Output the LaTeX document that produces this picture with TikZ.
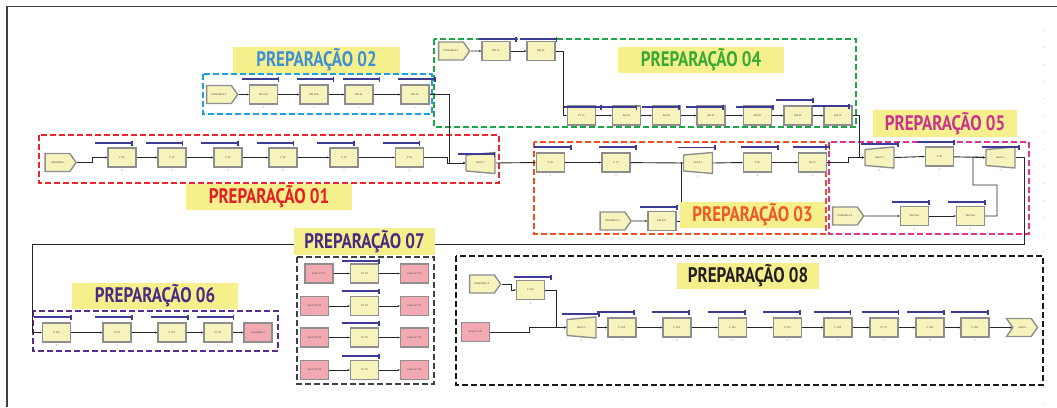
\documentclass[tikz,border=0pt]{standalone}
\usepackage{fontspec}
\setmainfont{Liberation Sans}
\newfontfamily\ttl{PT Sans}[FakeStretch=0.81]
\usetikzlibrary{shapes.geometric,shapes.symbols,arrows.meta}
\definecolor{nodefill}{HTML}{F7F3BC}
\definecolor{nodegray}{HTML}{8E8E8E}
\definecolor{pinkfill}{HTML}{F2A9B2}
\definecolor{resblue}{HTML}{3C3C96}
\definecolor{ttlyellow}{HTML}{F6F08C}
\definecolor{c01}{HTML}{E41E26}
\definecolor{c02}{HTML}{3F8FD6}
\definecolor{c03}{HTML}{EE5A24}
\definecolor{c04}{HTML}{39A935}
\definecolor{c05}{HTML}{C9338E}
\definecolor{c06}{HTML}{4B2A84}
\definecolor{c08}{HTML}{231F20}
\definecolor{g01}{HTML}{E8262B}
\definecolor{g02}{HTML}{1E9FE0}
\definecolor{g03}{HTML}{F04E23}
\definecolor{g04}{HTML}{1FA54A}
\definecolor{g05}{HTML}{E0338F}
\definecolor{g06}{HTML}{5B2C8B}
\definecolor{g07}{HTML}{404040}
\definecolor{g08}{HTML}{1A1A1A}
\tikzset{
  base/.style={draw=nodegray, line width=1.4pt, fill=nodefill, minimum width=28pt, minimum height=19pt, inner sep=0pt, font=\fontsize{2.5}{3}\selectfont, text=black!70},
  pnode/.style={base, rectangle},
  pinknode/.style={base, rectangle, fill=pinkfill},
  create/.style={base, signal, signal to=east, signal pointer angle=110, minimum width=31pt, minimum height=18pt},
  dispose/.style={base, signal, signal from=west, signal pointer angle=110, minimum width=31pt, minimum height=18pt},
  batch/.style={base, rectangle, draw=none, fill=none, minimum width=29pt, minimum height=20pt},
  bshape/.style={draw=nodegray, line width=1.4pt, fill=nodefill, line join=round},
  con/.style={line width=0.9pt, black!85, -{Stealth[length=2.2pt,width=2pt]}},
  res/.style={line width=1.2pt, resblue},
  grp/.style={line width=2pt, dash pattern=on 6pt off 3pt},
  ttlbox/.style={fill=ttlyellow, font=\ttl\bfseries\fontsize{21}{21}\selectfont, minimum height=26pt, inner sep=0pt},
  cnt/.style={font=\fontsize{2.5}{3}\selectfont, text=red!70, inner sep=0pt}
}
\newcommand\rsc[3]{\draw[res] ([shift={(#2-18.5,-#3)}]#1.center) -- ([shift={(#2+18.5,-#3)}]#1.center) ([shift={(#2+18.5,-#3-2.5)}]#1.center) -- ([shift={(#2+18.5,-#3+2.5)}]#1.center);}
\newcommand\cnt[1]{\node[cnt] (#1c) at ([shift={(0,13.5)}]#1.center) {0};}
% trapezoid outline of a Batch module, drawn under its (invisible) node
\newcommand\batchat[3]{%
  \filldraw[bshape] (#2-14.5,#3-8) -- (#2+14.5,#3-10.5) -- (#2+14.5,#3+10.5) -- (#2-14.5,#3+8) -- cycle;
  \node[batch] (#1) at (#2,#3) {\csname bl#1\endcsname};}
\begin{document}
\begin{tikzpicture}[x=1pt,y=-1pt]
\useasboundingbox (0,0) rectangle (1057,407);
% frame
\draw[line width=1.4pt, black!75] (7,407) -- (7,6.5) -- (1057,6.5);
\draw[black!20, line width=0.8pt, dash pattern=on 1pt off 16pt] (1043,30) -- (1043,407);
% group boxes
\draw[grp, draw=g01] (39,135) rectangle (499,183);
\draw[grp, draw=g02] (203,74) rectangle (432,114);
\draw[grp, draw=g04] (434,39) rectangle (856,127);
\draw[grp, draw=g03] (534,142) rectangle (826,234);
\draw[grp, draw=g05] (829,142) rectangle (1029,234);
\draw[grp, draw=g06] (33,311) rectangle (278,351);
\draw[grp, draw=g07] (297,257) rectangle (434,384);
\draw[grp, draw=g08] (456,256) rectangle (1043,385);

% ---------- PREP 01
\node[create] (d1) at (57.5,162.5) {DEMANDA};
\node[pnode] (p00) at (122,157.5) {P 00};
\node[pnode] (p10) at (172,157.5) {P 10};
\node[pnode] (p20) at (228,157.5) {P 20};
\node[pnode] (p30) at (283,157.5) {P 30};
\node[pnode] (p40) at (344,157.5) {P 40};
\node[pnode] (p50) at (409.5,157.5) {P 50};
\filldraw[bshape] (466,155) -- (495,152.5) -- (495,173.5) -- (466,171) -- cycle;
\node[batch] (b1) at (480.5,163) {Batch 1};
% ---------- PREP 02
\node[create] (d2) at (219,94.5) {DEMANDA 2};
\node[pnode] (bm01a) at (263.5,94.5) {BM 01A};
\node[pnode] (bm01b) at (314,94.5) {BM 01B};
\node[pnode] (bm02) at (359,94.5) {BM 02};
\node[pnode] (bm03) at (415,94.5) {BM 03};
% ---------- PREP 04
\node[create] (d4) at (451,51) {DEMANDA 4};
\node[pnode] (bm13) at (496,51) {BM 13};
\node[pnode] (bm14) at (541,51) {BM 14};
\node[pnode] (pt21) at (581.5,115.5) {PT 21};
\node[pnode] (bm29) at (626.5,115.5) {BM 29};
\node[pnode] (bm28) at (666.5,115.5) {BM 28};
\node[pnode] (bm27) at (711,115.5) {BM 27};
\node[pnode] (bm26) at (757.5,115.5) {BM 26};
\node[pnode] (bm25) at (798,115.5) {BM 25};
\node[pnode] (bm15) at (838,115.5) {BM 15};
% ---------- PREP 03
\node[pnode] (p60) at (550.5,162.5) {P 60};
\node[pnode] (p70) at (616,162.5) {P 70};
\filldraw[bshape] (683.5,155) -- (712.5,152.5) -- (712.5,173.5) -- (683.5,171) -- cycle;
\node[batch] (b2) at (698,163) {Batch 2};
\node[pnode] (p80) at (757.5,162.5) {P 80};
\node[pnode] (pr27) at (812.5,162.5) {PR 27};
\node[create] (d3) at (612.5,221) {DEMANDA 3};
\node[pnode] (bm01c) at (662,221) {BM 01C};
% ---------- PREP 05
\filldraw[bshape] (865,149.5) -- (894,147) -- (894,168) -- (865,165.5) -- cycle;
\node[batch] (b3) at (879.5,157.5) {Batch 3};
\node[pnode] (p90) at (939.5,156.5) {P 90};
\filldraw[bshape] (986,149.5) -- (1015,147) -- (1015,168) -- (986,165.5) -- cycle;
\node[batch] (b4) at (1000.5,157.5) {Batch 4};
\node[create] (d5) at (845,216) {DEMANDA 5};
\node[pnode] (bm01d) at (914.5,216) {BM 01D};
\node[pnode] (bm01e) at (970.5,216) {BM 01E};
% ---------- PREP 06
\node[pnode] (p100) at (56.5,332.5) {P 100};
\node[pnode] (p110) at (117,332.5) {P 110};
\node[pnode] (p120) at (172,332.5) {P 120};
\node[pnode] (pt30) at (218,332.5) {PT 30};
\node[pinknode] (fin5) at (258,332.5) {Finalidade 5};
% ---------- PREP 07
\node[pinknode] (e03) at (319,273.5) {Enter PT 03};
\node[pnode] (pt03) at (364.5,273.5) {PT 03};
\node[pinknode] (l03) at (414.5,273.5) {Leave PT 03};
\node[pinknode] (e04) at (314.5,306) {Enter PT 04};
\node[pnode] (pt04) at (364.5,306) {PT 04};
\node[pinknode] (l04) at (414.5,306) {Leave PT 04};
\node[pinknode] (e05) at (314.5,337.5) {Enter PT 05};
\node[pnode] (pt05) at (364.5,337.5) {PT 05};
\node[pinknode] (l05) at (414.5,337.5) {Leave PT 05};
\node[pinknode] (e06) at (314.5,370) {Enter PT 06};
\node[pnode] (pt06) at (364.5,370) {PT 06};
\node[pinknode] (l06) at (414.5,370) {Leave PT 06};
% ---------- PREP 08
\node[create] (d6) at (482,284) {DEMANDA 6};
\node[pnode] (p130) at (530.5,290) {P 130};
\node[pinknode] (ep140) at (475.5,332) {Enter P 140};
\filldraw[bshape] (567,319.5) -- (596,317) -- (596,338) -- (567,335.5) -- cycle;
\node[batch] (b5) at (581.5,327.5) {Batch 5};
\node[pnode] (p150) at (622,327.5) {P 150};
\node[pnode] (p160) at (677,327.5) {P 160};
\node[pnode] (p165) at (732.5,327.5) {P 165};
\node[pnode] (p170) at (787.5,327.5) {P 170};
\node[pnode] (p180) at (838,327.5) {P 180};
\node[pnode] (pt27) at (884,327.5) {PT 27};
\node[pnode] (p190) at (930,327.5) {P 190};
\node[pnode] (p200) at (975,327.5) {P 200};
\node[dispose] (saida) at (1022,327.5) {SAIDA};

% ---------- connectors
\draw[con] (d1.east) -- ++(15,0) |- (p00.west);
\draw[con] (p00) -- (p10);
\draw[con] (p10) -- (p20);
\draw[con] (p20) -- (p30);
\draw[con] (p30) -- (p40);
\draw[con] (p40) -- (p50);
\draw[con] (p50.east) -- ++(23,0) |- (b1.west);
\draw[con] (d2) -- (bm01a);
\draw[con] (bm01a) -- (bm01b);
\draw[con] (bm01b) -- (bm02);
\draw[con] (bm02) -- (bm03);
\coordinate (j1) at (449,163);
\draw[con] (bm03.east) -| (j1) -- (b1.west);
\draw[con] (b1.east) -- (p60.west);
\draw[con] (p60) -- (p70);
\draw[con] (p70) -- (b2.west);
\draw[con] (d3) -- (bm01c);
\coordinate (j3) at (681,163);
\draw[con] (bm01c.east) -| (j3) -- (b2.west);
\draw[con] (b2.east) -- (p80.west);
\draw[con] (p80) -- (pr27);
\draw[con] (pr27.east) -- ++(21,0) |- (b3.west);
\draw[con] (d4) -- (bm13);
\draw[con] (bm13) -- (bm14);
\draw[con] (bm14.east) -- ++(8,0) |- (pt21.west);
\draw[con] (pt21) -- (bm29);
\draw[con] (bm29) -- (bm28);
\draw[con] (bm28) -- (bm27);
\draw[con] (bm27) -- (bm26);
\draw[con] (bm26) -- (bm25);
\draw[con] (bm25) -- (bm15);
\coordinate (j5) at (859,157.5);
\draw[con] (bm15.east) -| (j5) -- (b3.west);
\draw[con] (b3.east) -- (p90.west);
\draw[con] (p90) -- (b4.west);
\draw[con] (d5) -- (bm01d);
\draw[con] (bm01d) -- (bm01e);
\coordinate (j6a) at (997,185);
\coordinate (j6b) at (973,185);
\coordinate (j6c) at (973,157);
\draw[con] (bm01e.east) -| (j6a) -- (j6b) -- (j6c) -- (b4.west);
\coordinate (k1) at (1024,244);
\coordinate (k2) at (32,244);
\draw[con] (b4.east) -| (k1) -- (k2) |- (p100.west);
\draw[con] (p100) -- (p110);
\draw[con] (p110) -- (p120);
\draw[con] (p120) -- (pt30);
\draw[con] (pt30) -- (fin5);
\foreach \r in {03,04,05,06}{
  \draw[con] (e\r) -- (pt\r);
  \draw[con] (pt\r) -- (l\r);
}
\draw[con] (d6.east) -- ++(10,0) |- (p130.west);
\coordinate (j8) at (556,327.5);
\draw[con] (p130.east) -| (j8) -- (b5.west);
\draw[con] (ep140.east) -- ++(39,0) |- (b5.west);
\draw[con] (b5.east) -- (p150.west);
\draw[con] (p150) -- (p160);
\draw[con] (p160) -- (p165);
\draw[con] (p165) -- (p170);
\draw[con] (p170) -- (p180);
\draw[con] (p180) -- (pt27);
\draw[con] (pt27) -- (p190);
\draw[con] (p190) -- (p200);
\draw[con] (p200) -- (saida.west);

% ---------- resource lines
\rsc{p00}{-8.5}{14.5}\rsc{p10}{-8}{14.5}\rsc{p20}{-8.5}{14.5}\rsc{p30}{-8}{14.5}\rsc{p40}{-8.5}{14.5}\rsc{p50}{-8.5}{14.5}\rsc{b1}{-4.5}{9}
\rsc{bm01a}{-3.5}{15.5}\rsc{bm01b}{1}{15.5}\rsc{bm02}{2}{15.5}\rsc{bm03}{1.5}{15.5}
\rsc{bm13}{1.5}{12}\rsc{bm14}{-3}{12}
\rsc{pt21}{1}{8.5}\rsc{bm29}{-8.5}{8.5}\rsc{bm28}{-6}{8.5}\rsc{bm27}{-6.5}{8.5}\rsc{bm26}{-3}{8.5}\rsc{bm25}{-3.5}{15.5}\rsc{bm15}{-7.5}{9.5}
\rsc{p60}{2}{15.5}\rsc{p70}{1.5}{15.5}\rsc{b2}{-1.5}{15.5}\rsc{p80}{2}{15.5}\rsc{pr27}{-1.5}{15.5}\rsc{bm01c}{-3.5}{14}
\rsc{b3}{0}{13.5}\rsc{p90}{-4}{14.5}\rsc{b4}{0}{10.5}\rsc{bm01d}{-4}{14}\rsc{bm01e}{-4}{14}
\rsc{p100}{-4}{15.5}\rsc{p110}{-3.5}{15.5}\rsc{p120}{-2.5}{15.5}\rsc{pt30}{-3}{15.5}
\rsc{pt03}{-4}{12.5}\rsc{pt04}{-4}{15}\rsc{pt05}{-4}{14.5}\rsc{pt06}{-4}{14}
\rsc{p130}{2}{13}\rsc{b5}{-1}{13.5}\rsc{p150}{-6.5}{15.5}\rsc{p160}{-6.5}{15.5}\rsc{p165}{-6}{15.5}\rsc{p170}{-6}{15.5}\rsc{p180}{-6}{15.5}\rsc{pt27}{-4}{15.5}\rsc{p190}{-4.5}{15.5}\rsc{p200}{-5.5}{15.5}

% ---------- counters
\foreach \n in {p00,p10,p20,p30,p40,p50,b1,bm01a,bm01b,bm02,bm03,p60,p70,b2,p80,pr27,bm01c,b3,p90,b4,bm01d,bm01e,p100,p110,p120,pt30,p130,b5,p150,p160,p165,p170,p180,pt27,p190,p200}{\cnt{\n}}

% ---------- titles
\node[ttlbox, text=c01, minimum width=166pt] (t01) at (269,196.5) {PREPARAÇÃO 01};
\node[ttlbox, text=c02, minimum width=167pt] (t02) at (316.5,60) {PREPARAÇÃO 02};
\node[ttlbox, text=c03, minimum width=145pt] (t03) at (752.5,215) {PREPARAÇÃO 03};
\node[ttlbox, text=c04, minimum width=166pt] (t04) at (701,60) {PREPARAÇÃO 04};
\node[ttlbox, text=c05, minimum width=144pt, minimum height=27pt] (t05) at (945,123.5) {PREPARAÇÃO 05};
\node[ttlbox, text=c06, minimum width=166pt] (t06) at (155,296) {PREPARAÇÃO 06};
\node[ttlbox, text=c06, minimum width=141pt, minimum height=27pt] (t07) at (364.5,241.5) {PREPARAÇÃO 07};
\node[ttlbox, text=c08, minimum width=142pt] (t08) at (748,276) {PREPARAÇÃO 08};
\end{tikzpicture}
\end{document}
